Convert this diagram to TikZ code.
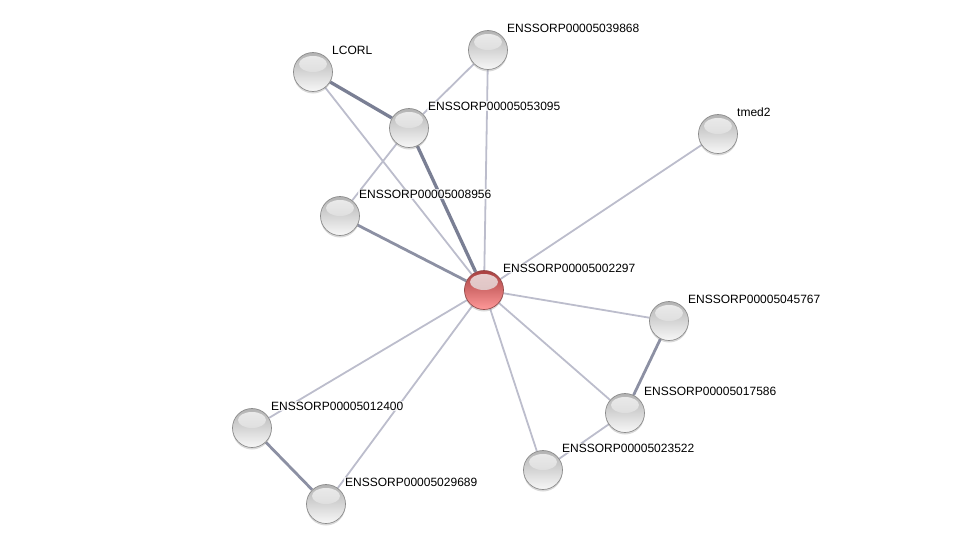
\documentclass[tikz,border=0pt]{standalone}
\usepackage{fontspec}
\setmainfont{Liberation Sans}
\usetikzlibrary{positioning, shadows, backgrounds}
\definecolor{edgelite}{RGB}{188,189,204}
\definecolor{edgedark}{RGB}{122,127,148}
\definecolor{edgemid}{RGB}{140,144,163}

\begin{document}
\begin{tikzpicture}[
    x=1pt, y=-1pt,
    prot/.style={
        circle,
        minimum size=39pt,
        inner sep=0pt,
        draw=black!45,
        line width=0.7pt,
        top color=black!30,
        bottom color=black!3,
        drop shadow={shadow xshift=0pt, shadow yshift=-2pt, opacity=0.3},
        path picture={
            \shade[top color=white, bottom color=black!22, opacity=0.75]
            ([yshift=8pt]path picture bounding box.center) ellipse [x radius=14pt, y radius=8pt];
        },
    },
    query/.style={prot, draw=red!40!black!70, top color=red!55!black!75, bottom color=red!40!white},
    lbl/.style={anchor=west, font=\fontsize{12}{14}\selectfont, inner sep=1pt,
        fill=white, fill opacity=0.75, text opacity=1},
    lite/.style={draw=edgelite, line width=1.8pt},
    mid/.style={draw=edgemid, line width=2.8pt},
    dark/.style={draw=edgedark, line width=3.3pt}
]
\useasboundingbox (0,0) rectangle (975,549);

\node[query] (p2297) at (484,290) {};
\node[prot] (lcorl) at (313,72) {};
\node[prot] (p9868) at (488,50) {};
\node[prot] (p3095) at (409,128) {};
\node[prot] (tmed2) at (718,134) {};
\node[prot] (p8956) at (340,216) {};
\node[prot] (p5767) at (669,321) {};
\node[prot] (p7586) at (625,413) {};
\node[prot] (p2400) at (252,428) {};
\node[prot] (p3522) at (543,470) {};
\node[prot] (p9689) at (326,504) {};

% labels
\node[lbl] (tlcorl) at ([xshift=18pt,yshift=22pt]lcorl.center) {LCORL};
\node[lbl] (t9868) at ([xshift=18pt,yshift=22pt]p9868.center) {ENSSORP00005039868};
\node[lbl] (t3095) at ([xshift=18pt,yshift=22pt]p3095.center) {ENSSORP00005053095};
\node[lbl] (ttmed2) at ([xshift=18pt,yshift=22pt]tmed2.center) {tmed2};
\node[lbl] (t8956) at ([xshift=18pt,yshift=22pt]p8956.center) {ENSSORP00005008956};
\node[lbl] (t2297) at ([xshift=18pt,yshift=22pt]p2297.center) {ENSSORP00005002297};
\node[lbl] (t5767) at ([xshift=18pt,yshift=22pt]p5767.center) {ENSSORP00005045767};
\node[lbl] (t7586) at ([xshift=18pt,yshift=22pt]p7586.center) {ENSSORP00005017586};
\node[lbl] (t2400) at ([xshift=18pt,yshift=22pt]p2400.center) {ENSSORP00005012400};
\node[lbl] (t3522) at ([xshift=18pt,yshift=22pt]p3522.center) {ENSSORP00005023522};
\node[lbl] (t9689) at ([xshift=18pt,yshift=22pt]p9689.center) {ENSSORP00005029689};

\begin{scope}[on background layer]
\draw[lite] (p2297) -- (lcorl);
\draw[lite] (p2297) -- (p9868);
\draw[lite] (p2297) -- (tmed2);
\draw[lite] (p2297) -- (p5767);
\draw[lite] (p2297) -- (p7586);
\draw[lite] (p2297) -- (p3522);
\draw[lite] (p2297) -- (p2400);
\draw[lite] (p2297) -- (p9689);
\draw[lite] (p9868) -- (p3095);
\draw[lite] (p3095) -- (p8956);
\draw[lite] (p7586) -- (p3522);
\draw[dark] (p2297) -- (p3095);
\draw[dark] (lcorl) -- (p3095);
\draw[mid] (p2297) -- (p8956);
\draw[mid] (p5767) -- (p7586);
\draw[mid] (p2400) -- (p9689);
\end{scope}
\end{tikzpicture}
\end{document}
